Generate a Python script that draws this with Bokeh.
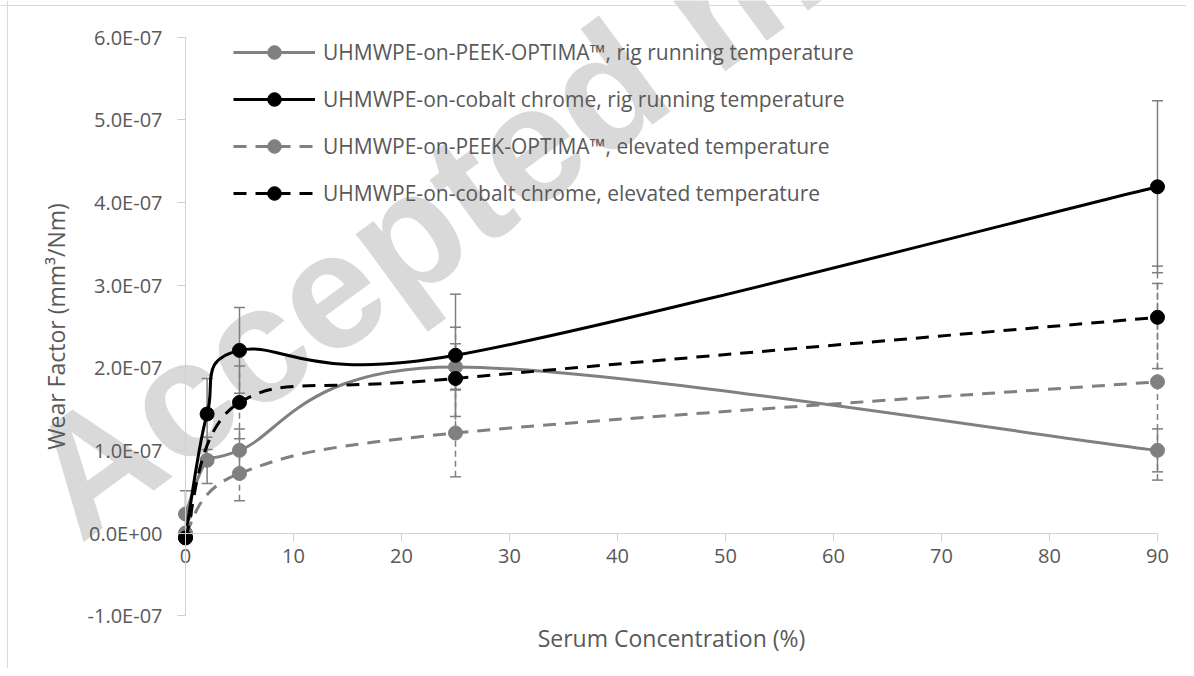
import numpy as np
from bokeh.plotting import figure
from bokeh.models import (ColumnDataSource, Whisker, TeeHead, Legend, LegendItem,
                          FixedTicker, Label, Span)
from bokeh.embed import file_html
from bokeh.resources import INLINE

# ---------------- data ----------------
conc_rig = [0, 2, 5, 25, 90]
conc_elev = [0, 5, 25, 90]

peek_rig = [0.23e-7, 0.88e-7, 1.00e-7, 2.01e-7, 1.00e-7]
peek_rig_err = [0.28e-7, 0.28e-7, 0.26e-7, 0.28e-7, 0.26e-7]

coc_rig = [-0.05e-7, 1.44e-7, 2.21e-7, 2.15e-7, 4.19e-7]
coc_rig_err = [0.05e-7, 0.43e-7, 0.52e-7, 0.74e-7, 1.04e-7]

peek_elev = [0.00e-7, 0.72e-7, 1.21e-7, 1.83e-7]
peek_elev_err = [0.05e-7, 0.33e-7, 0.53e-7, 1.19e-7]

coc_elev = [-0.06e-7, 1.58e-7, 1.87e-7, 2.61e-7]
coc_elev_err = [0.05e-7, 0.44e-7, 0.62e-7, 0.62e-7]

series_labels = [
    "UHMWPE-on-PEEK-OPTIMA\u2122, rig running temperature",
    "UHMWPE-on-cobalt chrome, rig running temperature",
    "UHMWPE-on-PEEK-OPTIMA\u2122, elevated temperature",
    "UHMWPE-on-cobalt chrome, elevated temperature",
]

y_ticks = [-1e-7, 0.0, 1e-7, 2e-7, 3e-7, 4e-7, 5e-7, 6e-7]
y_tick_labels = ["-1.0E-07", "0.0E+00", "1.0E-07", "2.0E-07", "3.0E-07",
                 "4.0E-07", "5.0E-07", "6.0E-07"]
x_ticks = [0, 10, 20, 30, 40, 50, 60, 70, 80, 90]

x_title = "Serum Concentration (%)"
y_title = "Wear Factor (mm\u00b3/Nm)"
watermark = "Accepted manuscript"

# ---------------- layout (pixel geometry -> data ranges) ----------------
W, H = 1186, 668
PX_X0, PX_X90 = 185.0, 1157.0        # x = 0 and x = 90
PX_Y0, PX_Y6 = 532.5, 36.7           # y = 0 and y = 6E-07
kx = (PX_X90 - PX_X0) / 90.0
ky = (PX_Y0 - PX_Y6) / 6e-7


def dx(px):
    return (px - PX_X0) / kx


def dy(py):
    return (PX_Y0 - py) / ky


FONT = "Open Sans"
GRAY = "#808080"
BLACK = "#000000"
AXIS_GRAY = "#d0d0d0"
TEXT_GRAY = "#595959"
ERR_GRAY = "#7f7f7f"

p = figure(width=W, height=H, x_range=(dx(0), dx(W)), y_range=(dy(H), dy(0)),
           output_backend="svg", toolbar_location=None, min_border=0)
p.grid.visible = False
p.outline_line_color = None
p.background_fill_color = "white"
p.border_fill_color = "white"

# chart-area border (light gray, left and top)
p.add_layout(Span(location=dx(7), dimension="height", line_color="#d9d9d9", line_width=1))
p.add_layout(Span(location=dy(5), dimension="width", line_color="#d9d9d9", line_width=1))

# y axis at x = 0
ya = p.yaxis[0]
ya.fixed_location = 0
ya.bounds = (y_ticks[0], y_ticks[-1])
ya.ticker = FixedTicker(ticks=y_ticks)
ya.major_label_overrides = dict(zip(y_ticks, y_tick_labels))
ya.axis_line_color = AXIS_GRAY
ya.major_tick_line_color = AXIS_GRAY
ya.major_tick_out = 8
ya.major_tick_in = 0
ya.minor_tick_line_color = None
ya.major_label_text_font = FONT
ya.major_label_text_font_size = "20px"
ya.major_label_text_color = TEXT_GRAY
ya.major_label_standoff = 15

# x axis at y = 0
xa = p.xaxis[0]
xa.fixed_location = 0
xa.bounds = (x_ticks[0], x_ticks[-1])
xa.ticker = FixedTicker(ticks=x_ticks)
xa.axis_line_color = AXIS_GRAY
xa.major_tick_line_color = AXIS_GRAY
xa.major_tick_out = 8
xa.major_tick_in = 0
xa.minor_tick_line_color = None
xa.major_label_text_font = FONT
xa.major_label_text_font_size = "20px"
xa.major_label_text_color = TEXT_GRAY
xa.major_label_standoff = 8

# watermark (behind everything)
p.add_layout(Label(x=dx(46), y=dy(498), text=watermark, angle=0.633,
                   text_font="Liberation Sans", text_font_style="bold",
                   text_font_size="165px", text_color="#d9d9d9",
                   text_align="left", text_baseline="alphabetic", level="image"))

# axis titles
p.add_layout(Label(x=45, y=dy(637), text=x_title, text_font=FONT,
                   text_font_size="23px", text_color=TEXT_GRAY,
                   text_align="center", text_baseline="middle"))
p.add_layout(Label(x=dx(55), y=2.5e-7, text=y_title, text_font=FONT,
                   text_font_size="23px", text_color=TEXT_GRAY, angle=np.pi / 2,
                   text_align="center", text_baseline="middle"))


def ctrl_points(xs, ys):
    xs = np.asarray(xs, float)
    ys = np.asarray(ys, float)
    n = len(xs)
    tx = np.zeros(n)
    ty = np.zeros(n)
    for i in range(n):
        a = max(i - 1, 0)
        b = min(i + 1, n - 1)
        tx[i] = (xs[b] - xs[a]) / 6.0
        ty[i] = (ys[b] - ys[a]) / 6.0
    return dict(x0=xs[:-1], y0=ys[:-1], x1=xs[1:], y1=ys[1:],
                cx0=xs[:-1] + tx[:-1], cy0=ys[:-1] + ty[:-1],
                cx1=xs[1:] - tx[1:], cy1=ys[1:] - ty[1:])


series = [
    (conc_rig, peek_rig, peek_rig_err, GRAY, "solid", "solid"),
    (conc_rig, coc_rig, coc_rig_err, BLACK, "solid", "solid"),
    (conc_elev, peek_elev, peek_elev_err, GRAY, "13 9", "6 4"),
    (conc_elev, coc_elev, coc_elev_err, BLACK, "13 9", "6 4"),
]

# error bars (underneath the lines)
for xs, ys, es, col, dash, edash in series:
    src = ColumnDataSource(dict(x=xs, upper=[y + e for y, e in zip(ys, es)],
                                lower=[y - e for y, e in zip(ys, es)]))
    p.add_layout(Whisker(source=src, base="x", upper="upper", lower="lower",
                         line_color=ERR_GRAY, line_width=1.5, line_dash=edash,
                         upper_head=TeeHead(size=11, line_color=ERR_GRAY, line_width=1.5),
                         lower_head=TeeHead(size=11, line_color=ERR_GRAY, line_width=1.5),
                         level="underlay"))

items = []
for (xs, ys, es, col, dash, edash), lab in zip(series, series_labels):
    cp = ctrl_points(xs, ys)
    p.bezier(source=ColumnDataSource(cp), x0="x0", y0="y0", x1="x1", y1="y1",
             cx0="cx0", cy0="cy0", cx1="cx1", cy1="cy1",
             line_color=col, line_width=3, line_dash=dash)
    proxy = p.line(x=[np.nan, np.nan], y=[np.nan, np.nan], line_color=col,
                   line_width=3, line_dash=dash)
    sc = p.scatter(x=xs, y=ys, marker="circle", size=14,
                   fill_color=col, line_color=col)
    items.append(LegendItem(label=lab, renderers=[proxy, sc]))

legend = Legend(items=items, location=(233, 458), orientation="vertical",
                glyph_width=82, glyph_height=34, label_height=34,
                spacing=13, padding=5, margin=0, label_standoff=8,
                label_text_font=FONT, label_text_font_size="21px",
                label_text_color=TEXT_GRAY,
                border_line_color=None, background_fill_alpha=0)
p.add_layout(legend)

open("out.html", "w").write(file_html(p, INLINE))
